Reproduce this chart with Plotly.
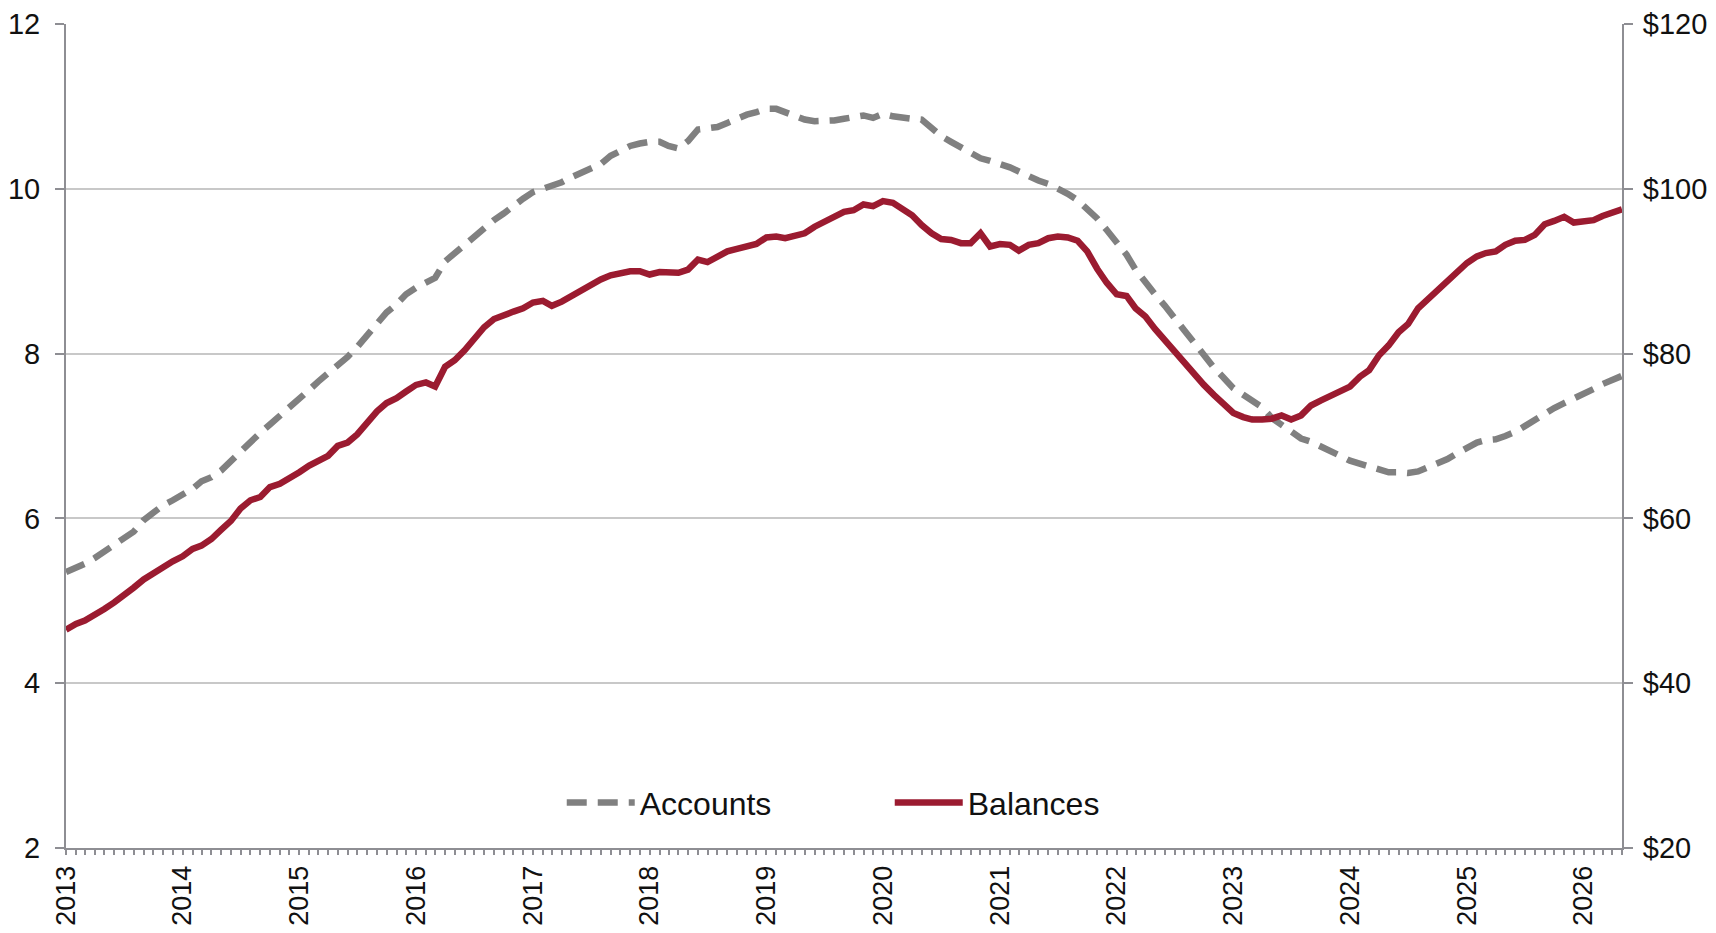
import pandas as pd
from plotly import graph_objects as go

ACCOUNTS_COLOUR = "#808080"
BALANCES_COLOUR = "#9b1b30"
AXIS_COLOUR = "#8e8e93"
GRID_COLOUR = "#c8c8c8"

# Monthly series, Jan 2013 - May 2026
months = pd.date_range("2013-01-01", "2026-05-01", freq="MS")

# Accounts (millions, left axis)
accounts = [
    5.35, 5.40, 5.45, 5.52, 5.60, 5.68, 5.76, 5.84, 5.98, 6.08, 6.16, 6.22,
    6.28, 6.36, 6.45, 6.50, 6.58, 6.70, 6.82, 6.92, 7.04, 7.14, 7.24, 7.34,
    7.45, 7.56, 7.66, 7.76, 7.86, 7.96, 8.08, 8.22, 8.38, 8.50, 8.60, 8.72,
    8.80, 8.86, 8.92, 9.12, 9.22, 9.32, 9.42, 9.52, 9.62, 9.70, 9.80, 9.88,
    9.96, 10.00, 10.04, 10.08, 10.14, 10.20, 10.24, 10.30, 10.40, 10.46, 10.52, 10.55,
    10.57, 10.57, 10.52, 10.49, 10.58, 10.72, 10.73, 10.75, 10.80, 10.85, 10.90, 10.93,
    10.97, 10.97, 10.93, 10.88, 10.84, 10.82, 10.82, 10.83, 10.85, 10.87, 10.89, 10.86,
    10.91, 10.88, 10.86, 10.85, 10.84, 10.74, 10.64, 10.57, 10.50, 10.43, 10.37, 10.34,
    10.31, 10.26, 10.21, 10.15, 10.10, 10.06, 10.01, 9.94, 9.86, 9.76, 9.64, 9.50,
    9.36, 9.20, 9.02, 8.86, 8.72, 8.58, 8.42, 8.28, 8.13, 7.98, 7.83, 7.71,
    7.58, 7.50, 7.43, 7.35, 7.22, 7.14, 7.04, 6.97, 6.93, 6.88, 6.82, 6.76,
    6.70, 6.66, 6.62, 6.59, 6.56, 6.56, 6.55, 6.57, 6.62, 6.67, 6.72, 6.79,
    6.86, 6.92, 6.95, 6.96, 7.00, 7.05, 7.12, 7.20, 7.28, 7.34, 7.40, 7.45,
    7.50, 7.57, 7.63, 7.68, 7.73,
]

# Balances ($ billions, right axis)
balances = [
    46.5, 47.2, 47.6, 48.2, 49.0, 49.8, 50.8, 51.6, 52.6, 53.4, 54.1, 54.8,
    55.4, 56.3, 56.7, 57.5, 58.6, 59.7, 61.2, 62.2, 62.6, 63.8, 64.2, 64.8,
    65.6, 66.4, 67.0, 67.6, 68.8, 69.2, 70.2, 71.6, 73.0, 74.0, 74.6, 75.4,
    76.2, 76.5, 76.0, 78.4, 79.2, 80.4, 81.8, 83.2, 84.2, 84.7, 85.1, 85.5,
    86.2, 86.4, 85.8, 86.3, 87.0, 87.7, 88.3, 89.0, 89.5, 89.8, 90.0, 90.0,
    89.6, 89.9, 89.8, 89.8, 90.2, 91.4, 91.1, 91.8, 92.4, 92.7, 93.0, 93.3,
    94.1, 94.2, 94.0, 94.3, 94.6, 95.4, 96.0, 96.7, 97.2, 97.4, 98.1, 97.9,
    98.5, 98.3, 97.6, 96.8, 95.6, 94.6, 93.9, 93.8, 93.4, 93.4, 94.6, 93.0,
    93.3, 93.2, 92.5, 93.2, 93.4, 94.0, 94.2, 94.1, 93.7, 92.4, 90.3, 88.6,
    87.2, 87.0, 85.5, 84.5, 83.0, 81.6, 80.2, 78.8, 77.6, 76.2, 75.0, 73.8,
    72.8, 72.3, 72.0, 72.0, 72.1, 72.5, 72.0, 72.5, 73.7, 74.3, 74.9, 75.5,
    76.0, 77.2, 78.0, 79.8, 81.0, 82.6, 83.6, 85.5, 86.6, 87.8, 88.8, 89.8,
    91.0, 91.8, 92.2, 92.4, 93.2, 93.7, 93.8, 94.4, 95.7, 96.1, 96.6, 95.9,
    96.1, 96.2, 96.7, 97.1, 97.5,
]

year_ticks = pd.date_range("2013-01-01", "2026-01-01", freq="YS")

fig = go.Figure()

fig.add_trace(
    go.Scatter(
        x=months,
        y=accounts,
        name="Accounts",
        mode="lines",
        line={"color": ACCOUNTS_COLOUR, "width": 6.5, "dash": "20px,11px"},
    )
)

fig.add_trace(
    go.Scatter(
        x=months,
        y=balances,
        name="Balances",
        mode="lines",
        yaxis="y2",
        line={"color": BALANCES_COLOUR, "width": 6.5},
    )
)

font_family = "Arial, Liberation Sans, sans-serif"
tick_font = {"family": font_family, "size": 29, "color": "#111111"}
year_font = {"family": font_family, "size": 27, "color": "#111111"}
legend_font = {"family": font_family, "size": 32, "color": "#111111"}

# page body has an 8px margin, so the figure is sized to fit the window exactly
fig.update_layout(
    autosize=False,
    width=1700,
    height=917,
    margin={"l": 58, "r": 86, "t": 16, "b": 77},
    paper_bgcolor="white",
    plot_bgcolor="white",
    font=tick_font,
    showlegend=True,
    legend={
        "orientation": "h",
        "x": 0.3186,
        "y": 0.055,
        "xanchor": "left",
        "yanchor": "middle",
        "font": legend_font,
        "bgcolor": "rgba(0,0,0,0)",
        "itemwidth": 68,
        "entrywidth": 245,
    },
    xaxis={
        "type": "date",
        "range": [months[0], months[-1]],
        "tickvals": year_ticks,
        "tickformat": "%Y",
        "tickangle": -90,
        "ticks": "outside",
        "ticklen": 5,
        "tickwidth": 2,
        "tickcolor": AXIS_COLOUR,
        "minor": {
            "dtick": "M1",
            "tick0": "2013-01-01",
            "ticks": "outside",
            "ticklen": 5,
            "tickwidth": 2,
            "tickcolor": AXIS_COLOUR,
            "showgrid": False,
        },
        "showgrid": False,
        "showline": True,
        "linecolor": AXIS_COLOUR,
        "linewidth": 2,
        "tickfont": year_font,
        "zeroline": False,
        "automargin": False,
    },
    yaxis={
        "range": [2, 12],
        "dtick": 2,
        "tick0": 2,
        "ticks": "outside",
        "ticklen": 9,
        "tickwidth": 2,
        "tickcolor": AXIS_COLOUR,
        "ticklabelstandoff": 9,
        "showline": True,
        "linecolor": AXIS_COLOUR,
        "linewidth": 2,
        "showgrid": True,
        "gridcolor": GRID_COLOUR,
        "gridwidth": 2,
        "zeroline": False,
        "tickfont": tick_font,
        "automargin": False,
    },
    yaxis2={
        "range": [20, 120],
        "dtick": 20,
        "tick0": 20,
        "tickprefix": "$",
        "overlaying": "y",
        "side": "right",
        "ticks": "outside",
        "ticklen": 9,
        "tickwidth": 2,
        "tickcolor": AXIS_COLOUR,
        "ticklabelstandoff": 4,
        "showline": True,
        "linecolor": AXIS_COLOUR,
        "linewidth": 2,
        "showgrid": False,
        "zeroline": False,
        "tickfont": tick_font,
        "automargin": False,
    },
)

fig.write_html("out.html")
